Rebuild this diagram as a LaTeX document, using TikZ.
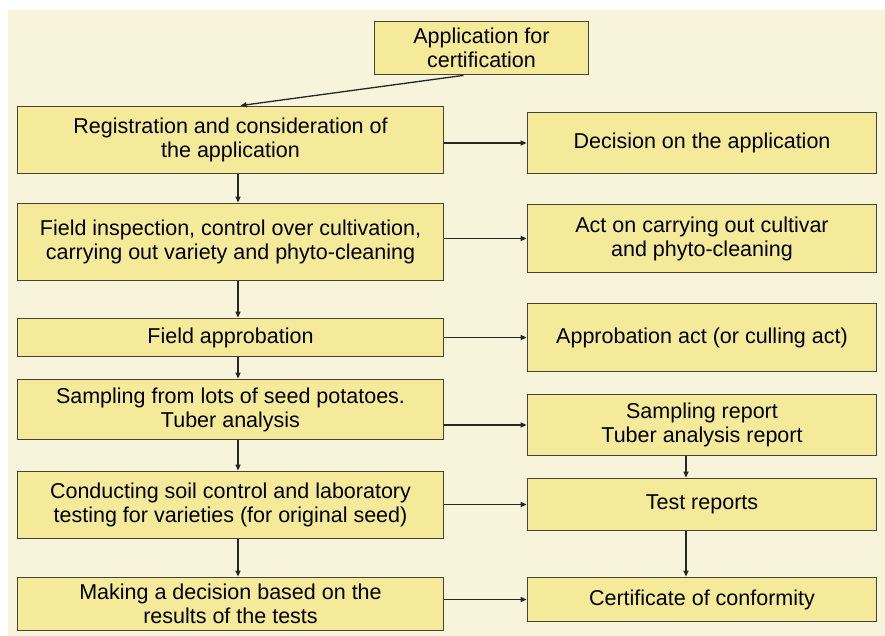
\documentclass[tikz,border=0pt]{standalone}
\usepackage{fontspec}
\setmainfont{Liberation Sans}
\usetikzlibrary{arrows.meta}
\definecolor{bgcol}{HTML}{F8F4DC}
\definecolor{boxcol}{HTML}{F4EA9A}
\definecolor{edgecol}{HTML}{45433A}
\tikzset{>={Triangle[length=6pt,width=5pt]}}
\tikzset{box/.style={draw=edgecol,fill=boxcol,line width=1.8pt,inner sep=2pt,align=center,
  font=\fontsize{21.5}{24}\selectfont},
  lbox/.style={box,minimum width=426pt},
  rbox/.style={box,minimum width=349pt},
  hy/.style={minimum height=#1pt},
  arr/.style={->,line width=1.3pt,black!85}}

\begin{document}
\begin{tikzpicture}[x=1pt,y=-1pt]
\useasboundingbox (0,0) rectangle (885,636);
\fill[bgcol] (8,10) rectangle (885,636);
\node[box,minimum width=214pt,hy=53] (app) at (481.5,48) {Application for\\certification};
\node[lbox,hy=67] (reg) at (230.5,140) {Registration and consideration of\\the application};
\node[rbox,hy=61] (dec) at (702,143) {Decision on the application};
\node[lbox,hy=77] (insp) at (230.5,242) {Field inspection, control over cultivation,\\carrying out variety and phyto-cleaning};
\node[rbox,hy=68] (act) at (702,238.5) {Act on carrying out cultivar\\and phyto-cleaning};
\node[lbox,hy=38] (appr) at (230.5,337.5) {Field approbation};
\node[rbox,hy=68] (apact) at (702,337.5) {Approbation act (or culling act)};
\node[lbox,hy=60] (samp) at (230.5,409.5) {Sampling from lots of seed potatoes.\\Tuber analysis};
\node[rbox,hy=61] (srep) at (702,425) {Sampling report\\Tuber analysis report};
\node[lbox,hy=67] (cond) at (230.5,505) {Conducting soil control and laboratory\\testing for varieties (for original seed)};
\node[rbox,hy=52] (test) at (702,504.5) {Test reports};
\node[lbox,hy=53] (make) at (230.5,604) {Making a decision based on the\\results of the tests};
\node[rbox,hy=44] (cert) at (702,599.5) {Certificate of conformity};
\draw[arr] ([xshift=-18pt]app.south) -- ([xshift=10pt]reg.north);
\foreach \a/\b in {reg/dec,insp/act,appr/apact,samp/srep,cond/test,make/cert}
  \draw[arr] (\a.east |- \b.west) -- (\b.west);
\foreach \a/\b in {reg/insp,insp/appr,appr/samp,samp/cond,cond/make}
  \draw[arr] ([xshift=7.5pt]\a.south) -- ([xshift=7.5pt]\b.north);
\foreach \a/\b in {srep/test,test/cert}
  \draw[arr] ([xshift=-16pt]\a.south) -- ([xshift=-16pt]\b.north);
\end{tikzpicture}
\end{document}
